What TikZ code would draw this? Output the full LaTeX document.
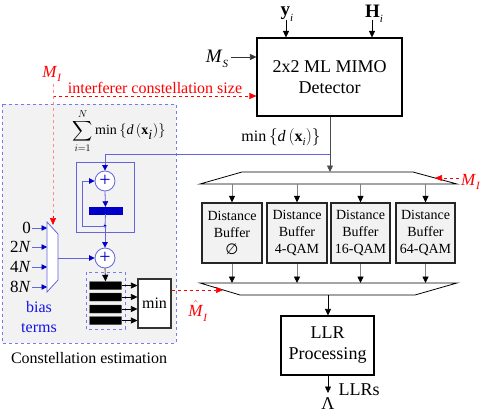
\documentclass[tikz,border=0pt]{standalone}
\usepackage{amssymb}
\usepackage{fontspec}
\setmainfont{Liberation Serif}
\newfontfamily\djv{DejaVu Sans}
\usetikzlibrary{arrows.meta}
\definecolor{lblue}{RGB}{100,100,225}
\definecolor{dblue}{RGB}{0,0,200}
\definecolor{tblue}{RGB}{20,20,230}
\definecolor{bgray}{RGB}{242,242,242}
\definecolor{dashblue}{RGB}{120,120,240}
\definecolor{pinkred}{RGB}{255,140,140}
\newcommand{\subI}[1]{\raisebox{-0.28em}{\fontsize{11}{11}\selectfont\textit{#1}}}
\begin{document}
\begin{tikzpicture}[x=1pt,y=-1pt,
  arr/.style={-{Triangle[length=6.5pt,width=6pt]}},
  barr/.style={draw=lblue,line width=0.8pt,-{Triangle[length=5.5pt,width=5.5pt,color=dblue,fill=dblue]}},
  garr/.style={draw=gray,line width=0.9pt,-{Triangle[length=6.5pt,width=6pt,color=black,fill=black]}},
  rarr/.style={draw=red,dashed,line width=0.6pt,-{Triangle[length=7pt,width=6pt]}},
  bigbox/.style={draw=black,line width=1.1pt,fill=white,align=center,inner sep=0pt,font=\fontsize{18}{21}\selectfont},
  bufbox/.style={draw=black!85,line width=1.2pt,fill=bgray,align=center,inner sep=0pt,minimum height=60pt,font=\fontsize{14}{17}\selectfont},
  adder/.style={circle,draw=lblue,line width=0.8pt,fill=white,minimum size=20pt,inner sep=0pt,text=dblue,font=\fontsize{20}{20}\selectfont},
  bar/.style={draw=black!70,fill=black,minimum width=32pt,minimum height=8pt,inner sep=0pt,rounded corners=0.5pt},
  lbl/.style={inner sep=0pt,font=\fontsize{16}{19}\selectfont},
  redlbl/.style={inner sep=0pt,text=red,font=\fontsize{17}{19}\selectfont}
]
\useasboundingbox (0,0) rectangle (481,414);

% constellation estimation background
\draw[dashblue,dashed,fill=bgray,line width=0.7pt] (2,104) rectangle (176,343);
\node[lbl] (celbl) at (89,358) {Constellation estimation};

% detector
\node[bigbox,minimum width=145pt,minimum height=78pt] (det) at (329.5,77) {2x2 ML MIMO\\[0pt]Detector};
\node[lbl,font=\fontsize{19}{20}\selectfont] (yi) at (287,14) {\textbf{y}\subI{i}};
\node[lbl,font=\fontsize{19}{20}\selectfont] (Hi) at (374,14) {\textbf{H}\subI{i}};
\coordinate (yiin) at (286,20);
\coordinate (Hiin) at (372,20);
\draw[arr,line width=0.6pt] (yiin) -- (yiin |- det.north);
\draw[arr,line width=0.6pt] (Hiin) -- (Hiin |- det.north);
\node[lbl,font=\fontsize{19}{20}\selectfont] (MS) at (217,59) {\textit{M}\subI{S}};
\draw[arr,draw=black!80,line width=0.6pt] (231,57) -- (det.west |- 0,57);

% red interferer line
\node[redlbl] (MI1) at (52,74) {\textit{M}\subI{I}};
\coordinate (MIj) at (53,96);
\coordinate (MItop) at (53,84);
\draw[pinkred,dashed,line width=0.8pt] (MItop) -- (MIj);
\draw[rarr] (MIj) -- (det.west |- MIj);
\node[redlbl,anchor=south,font=\fontsize{16}{19}\selectfont] (ifl) at (155,94) {interferer constellation size};

% demux (upper)
\draw[black,line width=0.8pt] (242,172) -- (413,172) -- (457,184) -- (200,184) -- cycle;
\coordinate (dmin) at (330,172);
\draw[arr,draw=gray!60!black,line width=0.6pt] (det.south -| dmin) -- (dmin);
\node[lbl] (minlbl) at (281,137) {min\,$\left\{\textit{d}\left(\textbf{x}\subI{i}\right)\right\}$};

% red M_I right
\node[redlbl,anchor=west] (MI2) at (461,182) {\textit{M}\subI{I}};
\coordinate (MI2s) at (459,178);
\draw[rarr] (MI2s) -- (435,178);

% buffers
\node[bufbox,minimum width=60pt] (b1) at (232,233) {Distance\\Buffer\\{\djv\fontsize{15}{17}\selectfont ∅}};
\node[bufbox,minimum width=60pt] (b2) at (297,233) {Distance\\Buffer\\4-QAM};
\node[bufbox,minimum width=59pt] (b3) at (360.5,233) {Distance\\Buffer\\16-QAM};
\node[bufbox,minimum width=59pt] (b4) at (425.5,233) {Distance\\Buffer\\64-QAM};
\foreach \b in {b1,b2,b3,b4}{
  \draw[garr] (\b.north |- 0,184) -- (\b.north);
  \draw[garr] (\b.south) -- (\b.south |- 0,283);
}

% mux (lower)
\draw[black,line width=0.8pt] (200,283) -- (457,283) -- (415,295) -- (240,295) -- cycle;
\coordinate (muxout) at (328,295);

% LLR
\node[bigbox,minimum width=93pt,minimum height=59pt] (llr) at (327.5,345.5) {LLR\\[0pt]Processing};
\draw[arr,line width=0.6pt] (muxout) -- (muxout |- llr.north);
\coordinate (llrout) at (328,393);
\draw[arr,line width=0.6pt] (llr.south -| llrout) -- (llrout);
\node[lbl,font=\fontsize{18}{20}\selectfont] (llrs) at (359,390) {LLRs};
\node[lbl,font=\fontsize{18}{20}\selectfont] (lam) at (328,404) {Λ};

% sum formula
\node[lbl,font=\fontsize{14}{16}\selectfont] (sumf) at (119,131) {$\displaystyle\sum_{i=1}^{N}\mbox{min}\left\{\textit{d}\left(\textbf{x}_{\textit{i}}\right)\right\}$};

% accumulator
\draw[lblue,line width=0.8pt] (76,162) rectangle (134,232);
\node[adder] (add1) at (105,181) {+};
\node[draw=dblue,fill=dblue,minimum width=33pt,minimum height=7pt,inner sep=0pt] (reg1) at (105.5,210.5) {};
\coordinate (dot) at (105,226);
\coordinate (tap) at (330,154);
\draw[barr] (tap) -- (105,154) -- (add1.north);
\draw[barr] (add1.south) -- (reg1.north);
\draw[lblue,line width=0.8pt] (reg1.south) -- (dot);
\fill[dblue] (dot) circle (1.6pt);
\draw[barr] (dot) -- (82,226) -- (82,181) -- (add1.west);
\node[adder] (add2) at (105,258) {+};
\draw[barr] (dot) -- (add2.north);

% bias mux
\draw[lblue,line width=0.8pt,fill=white] (47,222) -- (58,234) -- (58,280) -- (47,292) -- cycle;
\draw[barr] (58,258) -- (add2.west);
\draw[pinkred,dashed,line width=0.8pt] (MIj) -- (53,218);
\draw[red,line width=0.6pt,-{Triangle[length=7pt,width=6pt]}] (53,216) -- (53,225);
\node[lbl,anchor=east,font=\fontsize{17}{19}\selectfont] (in0) at (31,228) {0};
\node[lbl,anchor=east,font=\fontsize{17}{19}\selectfont] (in2) at (31,247) {2\textit{N}};
\node[lbl,anchor=east,font=\fontsize{17}{19}\selectfont] (in4) at (31,267) {4\textit{N}};
\node[lbl,anchor=east,font=\fontsize{17}{19}\selectfont] (in8) at (31,287) {8\textit{N}};
\foreach \n in {in0,in2,in4,in8}{
  \draw[barr] (\n.east) ++(1,0) -- (\n.east -| 47,0);
}
\node[lbl,text=tblue,align=center,font=\fontsize{16}{20}\selectfont] (bias) at (39,317) {bias\\terms};

% buffer group and min
\draw[dashblue,dashed,line width=0.7pt] (86,272) rectangle (125,329);
\node[bar] (r1) at (105.5,285.5) {};
\node[bar] (r2) at (105.5,297) {};
\node[bar] (r3) at (105.5,309) {};
\node[bar] (r4) at (105.5,320.5) {};
\node[draw=black!80,line width=1.1pt,fill=white,minimum width=33pt,minimum height=49pt,inner sep=0pt,font=\fontsize{16}{19}\selectfont] (minb) at (154.5,303.5) {min};
\draw[arr,line width=0.6pt] (add2.south) -- (r1.north);
\foreach \r in {r1,r2,r3,r4}{
  \draw[arr,line width=0.6pt] (\r.east) -- (\r.east -| minb.west);
}
\coordinate (mhat) at (223,290);
\draw[rarr,line width=0.5pt] (minb.east |- mhat) -- (mhat);
\node[redlbl] (MIh) at (198,311) {$\hat{\mbox{\textit{M}}}$\subI{I}};
\end{tikzpicture}
\end{document}
